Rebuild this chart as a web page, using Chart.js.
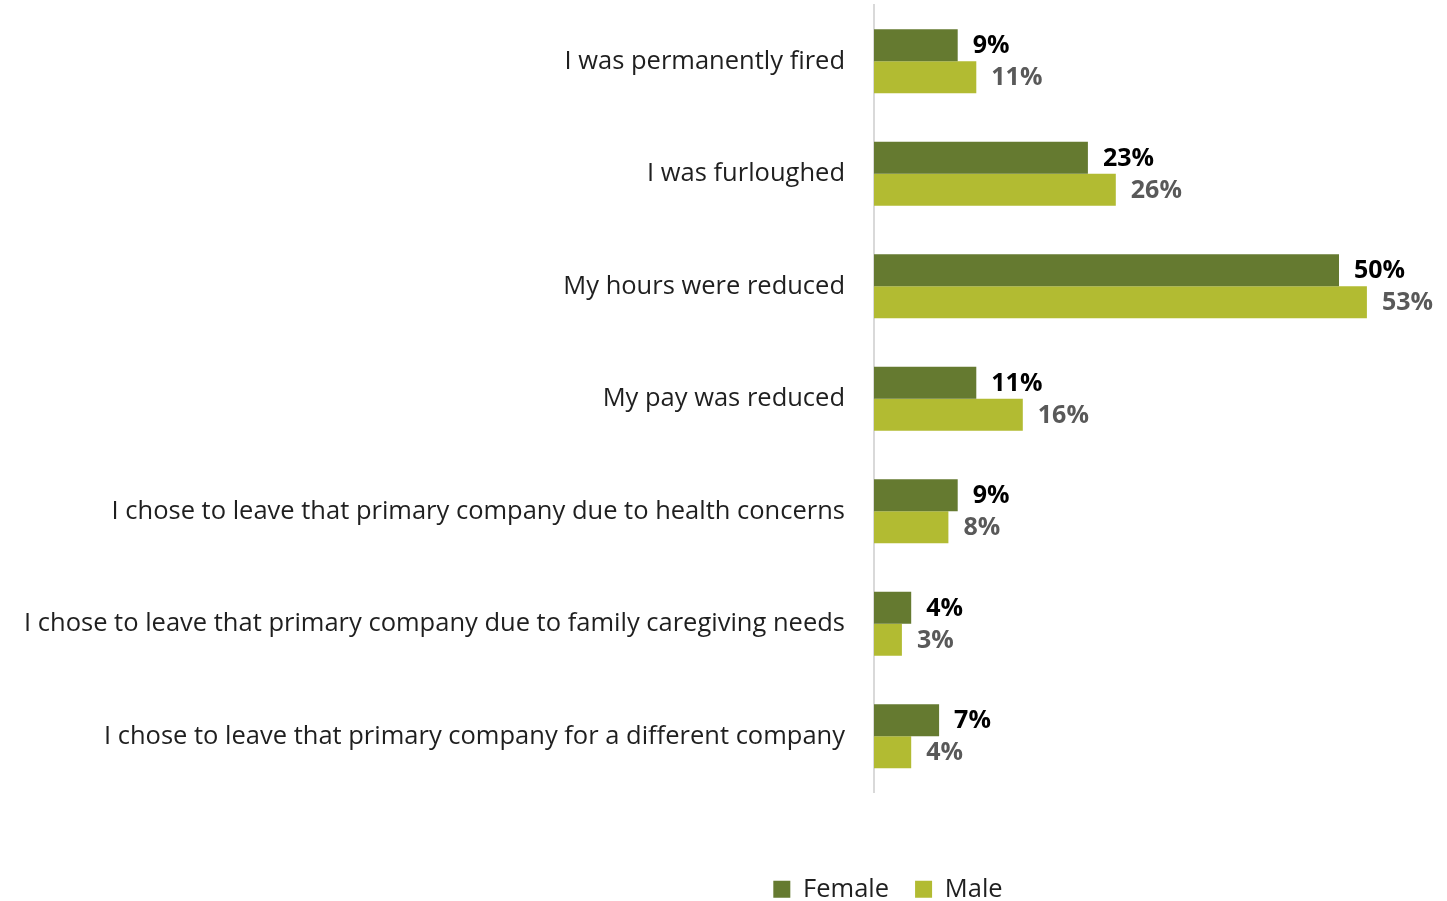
<!DOCTYPE html>
<html>
<head>
<meta charset="utf-8">
<script src="https://cdn.jsdelivr.net/npm/chart.js@4/dist/chart.umd.min.js"></script>
<style>
    html, body { margin: 0; padding: 0; background: #fff; }
    #wrap { width: 1447px; height: 901px; }
</style>
</head>
<body>
<div id="wrap"><canvas id="chart" width="1447" height="901"></canvas></div>
<script>
const categories = [
    "I was permanently fired",
    "I was furloughed",
    "My hours were reduced",
    "My pay was reduced",
    "I chose to leave that primary company due to health concerns",
    "I chose to leave that primary company due to family caregiving needs",
    "I chose to leave that primary company for a different company"
];
const female = [9, 23, 50, 11, 9, 4, 7];
const male = [11, 26, 53, 16, 8, 3, 4];

const FONT = "'Open Sans', sans-serif";

// draws the % labels at the end of each bar
const barLabels = {
    id: "barLabels",
    afterDatasetsDraw(chart) {
        const ctx = chart.ctx;
        ctx.save();
        ctx.font = "bold 25px " + FONT;
        ctx.textBaseline = "middle";
        ctx.textAlign = "left";
        chart.data.datasets.forEach((ds, i) => {
            const meta = chart.getDatasetMeta(i);
            ctx.fillStyle = i === 0 ? "#000000" : "#595959";
            meta.data.forEach((bar, j) => {
                ctx.fillText(ds.data[j] + "%", bar.x + 15, bar.y + 1);
            });
        });
        ctx.restore();
    }
};

// legend sits right of the page centre in the original
const legendShift = {
    id: "legendShift",
    afterLayout(chart) {
        chart.legend.left += 172;
        chart.legend.right += 172;
    }
};

const ctx = document.getElementById("chart").getContext("2d");
new Chart(ctx, {
    type: "bar",
    data: {
        labels: categories,
        datasets: [
            { label: "Female", data: female, backgroundColor: "#657a30" },
            { label: "Male", data: male, backgroundColor: "#b2bb32" }
        ]
    },
    options: {
        indexAxis: "y",
        responsive: false,
        animation: false,
        layout: { padding: { top: 5, right: 15, left: 0, bottom: -11 } },
        datasets: {
            bar: { barPercentage: 1, categoryPercentage: 0.57 }
        },
        scales: {
            x: {
                min: 0,
                max: 60,
                display: true,
                grid: { display: false, drawTicks: false },
                border: { display: false },
                ticks: { display: false },
                afterFit: (axis) => { axis.height = 58; }
            },
            y: {
                grid: { display: false, drawTicks: false },
                border: { display: true, color: "#d9d9d9", width: 2 },
                ticks: {
                    color: "#1f1f1f",
                    padding: 29,
                    font: { family: FONT, size: 25.5 }
                },
                afterFit: (axis) => {
                    axis.width = 874;
                    axis.paddingTop = 0;
                    axis.paddingBottom = 0;
                }
            }
        },
        plugins: {
            legend: {
                position: "bottom",
                labels: {
                    boxWidth: 17,
                    boxHeight: 17,
                    padding: 26,
                    color: "#1f1f1f",
                    font: { family: FONT, size: 25.5 }
                }
            },
            tooltip: { enabled: false }
        }
    },
    plugins: [barLabels, legendShift]
});
</script>
</body>
</html>
